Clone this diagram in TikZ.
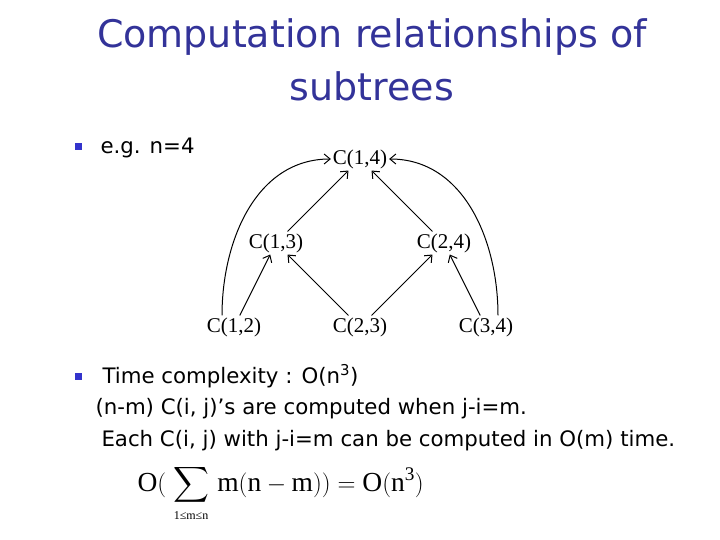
\documentclass[tikz,border=0pt]{standalone}
\usepackage{fontspec}
\setmainfont{Liberation Serif}
\newfontfamily\slidefont{DejaVu Sans}
\usepackage{amsmath}
\usetikzlibrary{arrows.meta,positioning}
\definecolor{titleblue}{RGB}{51,51,153}
\definecolor{bulletblue}{RGB}{51,51,204}
\tikzstyle{cnode}=[inner sep=1.5pt,font=\fontsize{21}{24}\selectfont]
\tikzstyle{item}=[anchor=base west,inner sep=0pt,font=\slidefont\fontsize{21.3}{24}\selectfont]
\tikzstyle{bullet}=[fill=bulletblue,minimum size=7pt,inner sep=0pt]

\begin{document}
\begin{tikzpicture}[x=1pt, y=-1pt, >={Straight Barb[length=6pt,width=10pt]},
    node distance=84pt and 84pt, on grid, line width=1pt]
  \useasboundingbox (0,0) rectangle (720,540);

  \node[text=titleblue, align=center, font=\slidefont\fontsize{38}{53}\selectfont]
    (title) at (372,60) {Computation relationships of\\subtrees};

  \node[bullet] (b1) at (78,147) {};
  \node[item] (t1) at (100,154) {e.g. n=4};

  \node[cnode] (c14) at (360,159) {C(1,4)};
  \node[cnode, below left=of c14] (c13) {C(1,3)};
  \node[cnode, below right=of c14] (c24) {C(2,4)};
  \node[cnode, below left=84pt and 42pt of c13] (c12) {C(1,2)};
  \node[cnode, below right=of c13] (c23) {C(2,3)};
  \node[cnode, below right=84pt and 42pt of c24] (c34) {C(3,4)};

  \draw[->] (c12.north) ++(-12,0) to[out=90, in=180] (c14.west);
  \draw[->] (c34.north) ++(12,0) to[out=90, in=0] (c14.east);
  \draw[->] (c12) -- (c13);
  \draw[->] (c23) -- (c13);
  \draw[->] (c23) -- (c24);
  \draw[->] (c34) -- (c24);
  \draw[->] (c13) -- (c14);
  \draw[->] (c24) -- (c14);

  \node[bullet] (b2) at (78,376) {};
  \node[item] (t2) at (102,383) {Time complexity : O(n\textsuperscript{3})};
  \node[item] (t3) at (95,414) {(n-m) C(i, j)’s are computed when j-i=m.};
  \node[item] (t4) at (101,446) {Each C(i, j) with j-i=m can be computed in O(m) time.};

  \node[anchor=west, inner sep=0pt, font=\fontsize{27.5}{30}\selectfont] (sum) at (137,491)
    {$\smash{\mathrm{O}(\;\displaystyle\sum_{\makebox[0pt]{\fontsize{12}{12}\selectfont 1≤m≤n}}\,\mathrm{m(n-m))=O(n^3)}}$};
\end{tikzpicture}
\end{document}
